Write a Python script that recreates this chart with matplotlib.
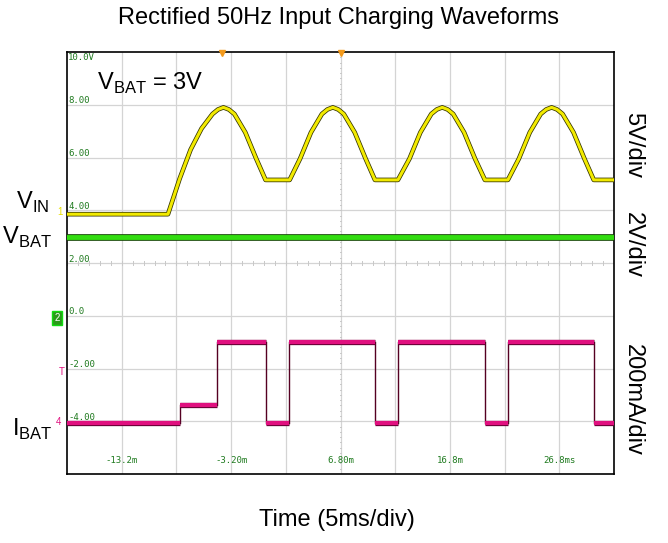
import matplotlib
matplotlib.use("Agg")
import matplotlib.pyplot as plt
import matplotlib.patheffects as pe

plt.rcParams['font.family'] = ['Liberation Sans', 'DejaVu Sans']

# time in ms, screen units (2 per division)
vin_t = [-18.2, -8.97, -7.9, -6.9, -5.9, -4.9, -4.4, -3.9, -3.4, -2.9, -1.9, -0.9, -0.05,
         2.15, 3.1, 4.1, 5.1, 5.6, 6.1, 6.6, 7.1, 8.1, 9.1, 9.95,
         12.05, 13.1, 14.1, 15.1, 15.6, 16.1, 16.6, 17.1, 18.1, 19.1, 20.0,
         22.1, 23.1, 24.1, 25.1, 25.6, 26.1, 26.6, 27.1, 28.1, 29.1, 29.95, 31.8]
vin_v = [3.85, 3.85, 5.2, 6.3, 7.1, 7.65, 7.82, 7.9, 7.82, 7.65, 6.95, 5.95, 5.15,
         5.15, 5.95, 6.95, 7.65, 7.82, 7.9, 7.82, 7.65, 6.95, 5.95, 5.15,
         5.15, 5.95, 6.95, 7.65, 7.82, 7.9, 7.82, 7.65, 6.95, 5.95, 5.15,
         5.15, 5.95, 6.95, 7.65, 7.82, 7.9, 7.82, 7.65, 6.95, 5.95, 5.15, 5.15]

vbat_t = [-18.2, 31.8]
vbat_v = [2.98, 2.98]

# I_BAT as level segments: start, end, level
ibat_start = [-18.2, -7.9, -4.45, -0.02, 2.1, 9.95, 12.05, 20.0, 22.1, 29.97]
ibat_end = [-7.9, -4.45, -0.02, 2.1, 9.95, 12.05, 20.0, 22.1, 29.97, 31.8]
ibat_level = [-4.05, -3.4, -0.98, -4.05, -0.98, -4.05, -0.98, -4.05, -0.98, -4.05]

y_labels = ["10.0V", "8.00", "6.00", "4.00", "2.00", "0.0", "-2.00", "-4.00"]
x_labels = ["-13.2m", "-3.20m", "6.80m", "16.8m", "26.8ms"]

fig = plt.figure(figsize=(6.68, 5.43), dpi=100)
ax = fig.add_axes([67/668, 1 - 474/543, 547/668, 422/543])
x0, x1 = -18.2, 31.8
ax.set_xlim(x0, x1)
ax.set_ylim(-6, 10)
ax.set_xticks([])
ax.set_yticks([])
for s in ax.spines.values():
    s.set_linewidth(1.2)
    s.set_color("black")

# grid
for k in range(1, 10):
    ax.axvline(x0 + 5 * k, color="#d4d4d4", lw=0.9, zorder=0)
for k in range(1, 8):
    ax.axhline(-6 + 2 * k, color="#d4d4d4", lw=0.9, zorder=0)
# minor ticks on centre lines
for k in range(50):
    xm = x0 + k
    ax.plot([xm, xm], [1.92, 2.08], color="#c8c8c8", lw=0.7, zorder=0)
for k in range(80):
    ym = -6 + k * 0.2
    ax.plot([6.8 - 0.08, 6.8 + 0.08], [ym, ym], color="#c8c8c8", lw=0.7, zorder=0)

green_txt = "#1f7a1f"
for i, lab in enumerate(y_labels):
    ax.text(x0 + 0.1, 10 - 2 * i - 0.02, lab, family="DejaVu Sans Mono", fontsize=6.5,
            color=green_txt, va="top" if i == 0 else "bottom", ha="left")
for i, lab in enumerate(x_labels):
    ax.text(-13.2 + 10 * i, -5.5, lab, family="DejaVu Sans Mono", fontsize=6.5,
            color=green_txt, ha="center", va="center")

ax.plot(vin_t, vin_v, color="#f2ea00", lw=2.2,
        path_effects=[pe.Stroke(linewidth=3.3, foreground="#333300"), pe.Normal()], zorder=3)
ax.plot(vbat_t, vbat_v, color="#33dd11", lw=3.5,
        path_effects=[pe.Stroke(linewidth=4.8, foreground="#114400"), pe.Normal()], zorder=3)

pink = "#e0107f"
for i in range(len(ibat_start)):
    ax.plot([ibat_start[i], ibat_end[i]], [ibat_level[i], ibat_level[i]], color=pink, lw=3,
            path_effects=[pe.Stroke(linewidth=3.8, foreground="#660033"), pe.Normal()],
            zorder=3, solid_capstyle="butt")
    if i > 0:
        ax.plot([ibat_start[i], ibat_start[i]], [ibat_level[i - 1], ibat_level[i]],
                color="#550022", lw=1.0, zorder=2)

# trigger markers on top
for xt in [-4.0, 6.8]:
    ax.plot(xt, 9.95, marker="v", color="#f39a1c", ms=5, clip_on=False, zorder=4)

# channel markers
fig.text(60/668, 1 - 212/543, "1", color="#e8e000", fontsize=7, ha="center", va="center")
fig.text(57/668, 1 - 318/543, "2", color="white", fontsize=7, ha="center", va="center",
         bbox=dict(boxstyle="square,pad=0.2", fc="#2a9a1a", ec="#11dd11"))
fig.text(62/668, 1 - 372/543, "T", color=pink, fontsize=7, ha="center", va="center")
fig.text(58/668, 1 - 422/543, "4", color=pink, fontsize=7, ha="center", va="center")

ax.text(-15.5, 8.8, r"V$_{\mathregular{BAT}}$ = 3V", fontsize=17, va="center")
fig.text(16/668, 1 - 202/543, r"V$_{\mathregular{IN}}$", fontsize=17, va="center")
fig.text(2/668, 1 - 237/543, r"V$_{\mathregular{BAT}}$", fontsize=17, va="center")
fig.text(12/668, 1 - 429/543, r"I$_{\mathregular{BAT}}$", fontsize=17, va="center")

fig.text(633/668, 1 - 145/543, "5V/div", fontsize=17, rotation=-90, ha="center", va="center")
fig.text(633/668, 1 - 245/543, "2V/div", fontsize=17, rotation=-90, ha="center", va="center")
fig.text(633/668, 1 - 400/543, "200mA/div", fontsize=17, rotation=-90, ha="center", va="center")

fig.text(338/668, 1 - 18/543, "Rectified 50Hz Input Charging Waveforms", fontsize=17, ha="center", va="center")
fig.text(337/668, 1 - 520/543, "Time (5ms/div)", fontsize=17, ha="center", va="center")

fig.savefig("out.png", dpi=100)
